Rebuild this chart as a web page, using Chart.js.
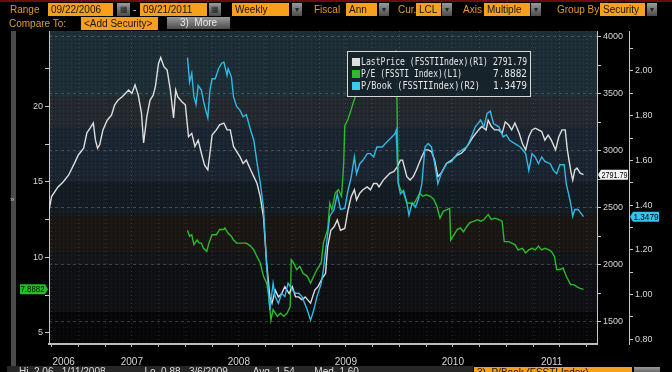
<!DOCTYPE html>
<html><head><meta charset="utf-8">
<script src="https://cdn.jsdelivr.net/npm/chart.js@4"></script>
<style>
html,body{margin:0;padding:0;background:#000;width:672px;height:372px;overflow:hidden;}
#wrap{position:relative;width:672px;height:372px;overflow:hidden;}
#c{position:absolute;left:0;top:0;}
.t{position:absolute;font:10px "Liberation Sans",Arial,sans-serif;white-space:nowrap;line-height:13px;height:13px;box-sizing:border-box;}
.lbl{color:#e39a2c;}
.fld{background:#f6a11d;color:#141414;padding-left:3px;}
.btn{background:linear-gradient(#9a9a9a,#4c4c4c);color:#222;text-align:center;font-size:8px;}
</style></head>
<body><div id="wrap">
<canvas id="c" width="672" height="372"></canvas>
<div class="t" style="left:0;top:0;width:672px;height:2px;background:#6e0b0b"></div>
<div class="t lbl" style="left:10px;top:3px">Range</div>
<div class="t fld" style="left:48px;top:3px;width:65px">09/22/2006</div>
<div class="t btn" style="left:117px;top:3px;width:13px">▦</div>
<div class="t" style="left:133px;top:3px;color:#ddd">-</div>
<div class="t fld" style="left:140px;top:3px;width:67px">09/21/2011</div>
<div class="t btn" style="left:209px;top:3px;width:12px">▦</div>
<div class="t fld" style="left:232px;top:3px;width:57px">Weekly</div>
<div class="t btn" style="left:292px;top:3px;width:10px">▾</div>
<div class="t lbl" style="left:314px;top:3px">Fiscal</div>
<div class="t fld" style="left:346px;top:3px;width:31px">Ann</div>
<div class="t btn" style="left:379px;top:3px;width:10px">▾</div>
<div class="t lbl" style="left:398px;top:3px">Cur.</div>
<div class="t fld" style="left:416px;top:3px;width:25px">LCL</div>
<div class="t btn" style="left:442px;top:3px;width:10px">▾</div>
<div class="t lbl" style="left:463px;top:3px">Axis</div>
<div class="t fld" style="left:484px;top:3px;width:46px">Multiple</div>
<div class="t btn" style="left:531px;top:3px;width:10px">▾</div>
<div class="t lbl" style="left:557px;top:3px">Group By</div>
<div class="t fld" style="left:600px;top:3px;width:45px">Security</div>
<div class="t btn" style="left:647px;top:3px;width:10px">▾</div>
<div class="t lbl" style="left:9px;top:17px">Compare To:</div>
<div class="t fld" style="left:81px;top:17px;width:77px">&lt;Add Security&gt;</div>
<div class="t btn" style="left:167px;top:17px;width:63px;height:12px;line-height:12px;font-size:10px;color:#e8e8e8">3)&nbsp;&nbsp;More</div>
<div class="t" style="left:11px;top:31px;width:5px;height:341px;background:#4a4a4a;"></div>
<div class="t" style="left:10px;top:193px;width:8px;color:#bbb;font-size:8px">»</div>
<div class="t" style="left:7px;top:366px;width:466px;height:8px;background:#262626;color:#ddd;padding-left:12px;line-height:12px">Hi&nbsp;&nbsp;2.06&nbsp;&nbsp;&nbsp;1/11/2008&nbsp;&nbsp;&nbsp;&nbsp;&nbsp;&nbsp;&nbsp;&nbsp;&nbsp;&nbsp;&nbsp;&nbsp;&nbsp;&nbsp;Lo&nbsp;&nbsp;0.88&nbsp;&nbsp;&nbsp;3/6/2009&nbsp;&nbsp;&nbsp;&nbsp;&nbsp;&nbsp;&nbsp;&nbsp;&nbsp;Avg&nbsp;&nbsp;1.54&nbsp;&nbsp;&nbsp;&nbsp;&nbsp;&nbsp;&nbsp;Med&nbsp;&nbsp;1.60</div>
<div class="t fld" style="left:474px;top:367px;width:158px;height:8px;line-height:12px">3)&nbsp;&nbsp;P/Book (FSSTI Index)</div>
<div class="t btn" style="left:634px;top:367px;width:26px;height:8px"></div>
</div>
<script>
// ---- data ----
const yearLabels = ['2006','2007','2008','2009','2010','2011'];
const priceDates = [
2006.726,2006.75,2006.81,2006.86,2006.91,2006.97,2007.00,2007.05,2007.08,2007.11,
2007.14,2007.16,2007.18,2007.20,2007.23,2007.27,2007.31,2007.34,2007.37,2007.41,
2007.44,2007.47,2007.50,2007.53,2007.56,2007.59,2007.61,2007.64,2007.67,2007.70,
2007.72,2007.75,2007.77,2007.80,2007.83,2007.86,2007.89,2007.91,2007.93,2007.97,
2008.00,2008.03,2008.06,2008.09,2008.12,2008.15,2008.18,2008.21,2008.23,2008.25,
2008.29,2008.32,2008.36,2008.39,2008.42,2008.45,2008.48,2008.51,2008.54,2008.57,
2008.61,2008.64,2008.67,2008.70,2008.73,2008.76,2008.79,2008.81,2008.84,2008.87,
2008.90,2008.93,2008.97,2009.00,2009.03,2009.06,2009.09,2009.12,2009.17,2009.21,
2009.24,2009.28,2009.31,2009.33,2009.36,2009.39,2009.42,2009.45,2009.49,2009.52,
2009.55,2009.58,2009.60,2009.63,2009.66,2009.70,2009.73,2009.76,2009.79,2009.81,
2009.85,2009.88,2009.91,2009.95,2009.98,2010.01,2010.03,2010.07,2010.10,2010.13,
2010.16,2010.19,2010.21,2010.24,2010.27,2010.30,2010.33,2010.36,2010.39,2010.44,
2010.49,2010.54,2010.58,2010.61,2010.65,2010.69,2010.74,2010.77,2010.81,2010.83,
2010.86,2010.89,2010.93,2010.96,2010.99,2011.02,2011.05,2011.08,2011.12,2011.15,
2011.18,2011.21,2011.24,2011.27,2011.30,2011.33,2011.36,2011.39,2011.42,2011.46,
2011.49,2011.52,2011.55,2011.57,2011.60,2011.62,2011.64,2011.66,2011.69,2011.721];
const priceValues = [
2480,2600,2685,2730,2790,2905,2965,3025,3160,3200,
3245,3095,3025,3055,3185,3270,3315,3405,3445,3475,
3505,3535,3505,3580,3490,3335,3070,3300,3445,3490,
3565,3770,3820,3740,3710,3535,3290,3535,3475,3430,
3405,3125,3155,3040,3095,2980,2875,2835,2980,3140,
3185,3230,3245,3185,3185,3040,2995,2950,2890,2920,
2835,2775,2715,2600,2425,2015,1720,1665,1780,1720,
1750,1810,1750,1810,1720,1720,1695,1720,1665,1780,
1810,1885,1925,2160,2305,2335,2395,2305,2320,2480,
2600,2660,2570,2630,2660,2685,2660,2715,2715,2685,
2745,2775,2805,2820,2860,2920,2920,2775,2745,2775,
2835,2905,2950,3010,3010,2995,2920,2775,2805,2890,
2920,2965,2980,3010,3065,3125,3185,3215,3185,3270,
3215,3185,3185,3155,3255,3230,3185,3245,3155,3065,
3010,3125,3185,3200,3185,3170,3095,3140,3095,3010,
3125,3185,3185,3010,2835,2745,2835,2850,2805,2791.79];
const peDates = [
2008.02,2008.04,2008.06,2008.08,2008.11,2008.13,2008.15,2008.17,2008.20,2008.22,
2008.25,2008.29,2008.32,2008.36,2008.37,2008.40,2008.43,2008.45,2008.48,2008.53,
2008.57,2008.61,2008.64,2008.67,2008.70,2008.73,2008.76,2008.78,2008.80,2008.82,
2008.86,2008.89,2008.92,2008.95,2008.98,2008.99,2009.01,2009.04,2009.07,2009.10,
2009.14,2009.17,2009.20,2009.23,2009.27,2009.29,2009.33,2009.35,2009.37,2009.40,
2009.43,2009.46,2009.48,2009.49,2009.52,2009.55,2009.59,2009.62,2009.70,2009.80,
2009.90,2009.97,2009.99,2010.01,2010.04,2010.07,2010.10,2010.13,2010.16,2010.19,
2010.22,2010.25,2010.29,2010.32,2010.35,2010.38,2010.41,2010.44,2010.47,2010.48,
2010.51,2010.54,2010.57,2010.60,2010.63,2010.66,2010.70,2010.73,2010.76,2010.79,
2010.83,2010.86,2010.89,2010.93,2010.96,2010.98,2011.02,2011.05,2011.08,2011.11,
2011.15,2011.18,2011.21,2011.24,2011.27,2011.30,2011.33,2011.36,2011.40,2011.42,
2011.45,2011.47,2011.50,2011.53,2011.56,2011.60,2011.63,2011.66,2011.69,2011.721];
const peValues = [
11.8,11.4,11.5,10.85,11.15,10.95,10.95,10.6,10.4,10.95,
11.5,11.5,11.85,11.85,11.95,11.6,11.4,11.15,10.95,10.95,
10.95,10.75,10.5,10.05,9.65,8.75,8.3,7.4,5.85,6.55,
6.1,6.3,6.1,6.3,6.75,9.85,9.65,9.2,9.4,8.95,
8.75,8.3,8.75,9.2,9.65,10.95,11.85,13.6,13.15,14.25,
14.5,14.05,16.25,18.7,19.15,19.8,20.7,22.2,23.0,23.3,
23.5,23.65,14.95,14.5,14.25,13.6,13.6,13.5,13.85,14.25,
14.05,14.15,14.05,13.85,13.4,12.6,13.05,13.15,13.25,11.15,
11.5,11.85,11.95,11.7,12.05,12.3,12.4,12.5,12.4,12.5,
12.85,12.5,12.6,12.5,12.4,11.05,11.05,10.95,10.85,10.5,
10.6,10.3,10.5,10.6,10.5,10.75,10.5,10.6,10.5,10.4,
10.05,9.2,9.2,9.3,8.75,8.2,8.2,8.05,7.95,7.8882];
const pbDates = [
2008.02,2008.04,2008.06,2008.08,2008.10,2008.12,2008.15,2008.17,2008.19,2008.21,
2008.23,2008.25,2008.28,2008.31,2008.34,2008.36,2008.39,2008.40,2008.43,2008.45,
2008.48,2008.51,2008.54,2008.57,2008.61,2008.64,2008.67,2008.70,2008.73,2008.76,
2008.79,2008.82,2008.84,2008.87,2008.90,2008.93,2008.96,2009.00,2009.03,2009.06,
2009.09,2009.14,2009.17,2009.20,2009.23,2009.27,2009.29,2009.32,2009.35,2009.39,
2009.42,2009.45,2009.49,2009.52,2009.55,2009.58,2009.60,2009.63,2009.66,2009.70,
2009.73,2009.76,2009.79,2009.84,2009.87,2009.90,2009.93,2009.96,2009.97,2009.99,
2010.01,2010.04,2010.07,2010.09,2010.12,2010.15,2010.18,2010.21,2010.24,2010.27,
2010.30,2010.33,2010.36,2010.39,2010.44,2010.49,2010.54,2010.58,2010.63,2010.66,
2010.71,2010.76,2010.79,2010.82,2010.85,2010.88,2010.93,2010.97,2011.00,2011.03,
2011.08,2011.13,2011.18,2011.21,2011.24,2011.27,2011.30,2011.33,2011.36,2011.41,
2011.44,2011.47,2011.50,2011.54,2011.56,2011.60,2011.62,2011.64,2011.67,2011.721];
const pbValues = [
2.06,1.95,1.99,1.885,1.85,1.935,1.915,1.865,1.825,1.79,
1.915,1.965,1.965,2.01,2.035,2.04,1.98,2.01,1.975,1.885,
1.84,1.825,1.795,1.805,1.735,1.69,1.59,1.50,1.39,1.125,
0.93,1.05,0.99,0.96,1.005,0.99,1.05,1.02,1.005,1.005,
0.99,0.93,0.885,0.93,0.99,1.05,1.11,1.23,1.35,1.38,
1.45,1.38,1.385,1.465,1.525,1.615,1.54,1.585,1.60,1.63,
1.63,1.615,1.66,1.66,1.675,1.69,1.705,1.72,1.735,1.495,
1.45,1.465,1.41,1.355,1.41,1.39,1.43,1.495,1.66,1.675,
1.66,1.585,1.495,1.54,1.585,1.595,1.63,1.645,1.66,1.69,
1.75,1.78,1.75,1.81,1.82,1.765,1.75,1.705,1.715,1.69,
1.675,1.66,1.63,1.555,1.63,1.615,1.585,1.615,1.595,1.585,
1.555,1.54,1.58,1.58,1.495,1.41,1.35,1.38,1.38,1.3479];
const seriesNames = ['LastPrice (FSSTIIndex)(R1)','P/E (FSSTI Index)(L1)','P/Book (FSSTIIndex)(R2)'];

// ---- styling / layout ----
const C_PRICE='#dedede', C_PE='#2bbb2b', C_PB='#2fb9e4';
const xMin = 2006.726, xMax = 2011.847;
const labelPos = yearLabels.map(y => (Math.max(+y, xMin) + Math.min(+y + 1, xMax)) / 2);
const quarterTicks = [];
for (let q = Math.ceil(xMin * 4); q / 4 <= xMax; q++) quarterTicks.push(q / 4);
const isQuarter = v => quarterTicks.some(q => Math.abs(q - v) < 1e-9);
const xTickValues = [...new Set([...quarterTicks, ...labelPos])].sort((a, b) => a - b);
const pts = (xs, ys) => xs.map((x, i) => ({x, y: ys[i]}));
function stepTicks(s, step) {
  const out = [];
  for (let k = Math.ceil(s.min / step - 1e-9); k * step <= s.max + 1e-9; k++) out.push({value: +(k * step).toFixed(6)});
  s.ticks = out;
}
const isMult = (v, m) => Math.abs(v / m - Math.round(v / m)) < 1e-6;
const tickFont = {family: '"Liberation Sans", Arial, sans-serif', size: 9};

const bands = [[0,66,'#1d2e36'],[66,96,'#23292f'],[96,151,'#1a2531'],[151,183,'#141c23'],[183,221,'#1a1613'],[221,234,'#121519'],[234,281,'#0e1013'],[281,313,'#070709']];

const bgPlugin = {
  id: 'bg',
  beforeDraw(chart) {
    const {ctx, chartArea: a} = chart;
    const H = a.bottom - a.top;
    ctx.save();
    bands.forEach(([t, b, c]) => {
      ctx.fillStyle = c;
      ctx.fillRect(a.left, a.top + t / 313 * H, a.right - a.left, (b - t) / 313 * H + 0.5);
    });
    const p = document.createElement('canvas'); p.width = 4; p.height = 4;
    const pc = p.getContext('2d');
    pc.fillStyle = 'rgba(0,0,0,0.3)'; pc.fillRect(1, 1, 1, 1);
    pc.fillStyle = 'rgba(255,255,255,0.05)'; pc.fillRect(3, 3, 1, 1);
    ctx.fillStyle = ctx.createPattern(p, 'repeat');
    ctx.fillRect(a.left, a.top, a.right - a.left, H);
    ctx.restore();
  }
};

function tagShape(ctx, x0, x1, y, h, tipX) {
  ctx.beginPath();
  if (tipX > x1) { ctx.moveTo(x0, y - h/2); ctx.lineTo(x1, y - h/2); ctx.lineTo(tipX, y); ctx.lineTo(x1, y + h/2); ctx.lineTo(x0, y + h/2); }
  else { ctx.moveTo(tipX, y); ctx.lineTo(x0, y - h/2); ctx.lineTo(x1, y - h/2); ctx.lineTo(x1, y + h/2); ctx.lineTo(x0, y + h/2); }
  ctx.closePath(); ctx.fill();
}

const overlayPlugin = {
  id: 'overlay',
  afterDatasetsDraw(chart) {
    const ctx = chart.ctx;
    ctx.save();
    const L = 347, T = 51, R = 531, B = 97;
    ctx.fillStyle = 'rgba(22,34,42,0.93)';
    ctx.fillRect(L, T, R - L, B - T);
    ctx.strokeStyle = '#d8d8d8'; ctx.lineWidth = 1;
    ctx.strokeRect(L + 0.5, T + 0.5, R - L - 1, B - T - 1);
    const vals = [priceValues.at(-1).toFixed(2), peValues.at(-1).toFixed(4), pbValues.at(-1).toFixed(4)];
    const cols = [C_PRICE, C_PE, '#3cc8f0'];
    ctx.font = '10px "DejaVu Sans Mono", monospace';
    ctx.textBaseline = 'middle';
    seriesNames.forEach((n, i) => {
      const y = 62 + i * 12;
      ctx.fillStyle = cols[i]; ctx.fillRect(352, y - 4, 8, 8);
      ctx.fillStyle = '#e6e6e6';
      ctx.textAlign = 'left';
      ctx.fillText(n, 361, y, [127, 101, 119][i]);
      ctx.fillText(vals[i], 493, y, 34);
    });
    ctx.restore();
  },
  afterDraw(chart) {
    const ctx = chart.ctx, s = chart.scales;
    ctx.save();
    ctx.font = '9px "Liberation Sans", Arial, sans-serif';
    ctx.textBaseline = 'middle'; ctx.textAlign = 'center';
    let y = s.yL.getPixelForValue(peValues.at(-1));
    ctx.fillStyle = '#1fc21f'; tagShape(ctx, 20, 45, y, 10, 48);
    ctx.fillStyle = '#000'; ctx.fillText(peValues.at(-1).toFixed(4), 32.5, y + 0.5, 24);
    y = s.yR1.getPixelForValue(priceValues.at(-1));
    ctx.fillStyle = '#f2f2f2'; tagShape(ctx, 601, 628, y, 10, 598);
    ctx.fillStyle = '#000'; ctx.fillText(priceValues.at(-1).toFixed(2), 614.5, y + 0.5, 26);
    y = s.yR2.getPixelForValue(pbValues.at(-1));
    ctx.fillStyle = '#33c4f0'; tagShape(ctx, 633, 659, y, 10, 630);
    ctx.fillStyle = '#000'; ctx.fillText(pbValues.at(-1).toFixed(4), 646, y + 0.5, 25);
    ctx.restore();
  }
};

new Chart(document.getElementById('c'), {
  type: 'line',
  data: {
    datasets: [
      {label: seriesNames[0], data: pts(priceDates, priceValues), yAxisID: 'yR1', borderColor: C_PRICE, borderWidth: 1.4, pointRadius: 0, order: 1},
      {label: seriesNames[1], data: pts(peDates, peValues), yAxisID: 'yL', borderColor: C_PE, borderWidth: 1.4, pointRadius: 0, order: 2},
      {label: seriesNames[2], data: pts(pbDates, pbValues), yAxisID: 'yR2', borderColor: C_PB, borderWidth: 1.4, pointRadius: 0, order: 0}
    ]
  },
  options: {
    responsive: false, animation: false,
    layout: {padding: {top: 31, left: 0, right: 0, bottom: 0}},
    plugins: {legend: {display: false}, tooltip: {enabled: false}},
    scales: {
      x: {
        type: 'linear', position: 'bottom', min: xMin, max: xMax,
        afterBuildTicks(s) { s.ticks = xTickValues.map(v => ({value: v})); },
        afterFit(s) { s.height = 28; },
        ticks: {autoSkip: false, maxRotation: 0, minRotation: 0, color: '#d6d6d6', padding: 9,
          font: {family: '"Liberation Sans", Arial, sans-serif', size: 10},
          callback(v) { const i = labelPos.indexOf(v); return i >= 0 ? yearLabels[i] : ''; }},
        grid: {drawOnChartArea: true, tickLength: 3,
          color: c => (c.tick && isQuarter(c.tick.value)) ? 'rgba(190,200,205,0.16)' : 'rgba(0,0,0,0)',
          tickColor: c => (c.tick && isQuarter(c.tick.value)) ? '#bdbdbd' : 'rgba(0,0,0,0)'},
        border: {color: '#bdbdbd', width: 2, dash: [1, 3]}
      },
      yL: {
        type: 'linear', position: 'left', min: 4.27, max: 24.99,
        afterBuildTicks(s) { stepTicks(s, 2.5); },
        afterFit(s) { s.width = 49; },
        ticks: {color: '#d6d6d6', font: tickFont, padding: 2, callback: v => isMult(v, 5) ? String(v) : ''},
        grid: {drawOnChartArea: false, tickLength: 4, tickColor: '#c8c8c8'},
        border: {color: '#c8c8c8', width: 1}
      },
      yR1: {
        type: 'linear', position: 'right', min: 1307, max: 4052.6,
        afterBuildTicks(s) { stepTicks(s, 250); },
        afterFit(s) { s.width = 32; },
        ticks: {color: '#d6d6d6', font: tickFont, padding: 2, callback: v => isMult(v, 500) ? String(v) : ''},
        grid: {drawOnChartArea: true, tickLength: 4, tickColor: '#c8c8c8',
          color: c => (c.tick && isMult(c.tick.value, 500)) ? 'rgba(150,155,160,0.35)' : 'rgba(0,0,0,0)'},
        border: {color: '#c8c8c8', width: 1, dash: [3, 3]}
      },
      yR2: {
        type: 'linear', position: 'right', min: 0.778, max: 2.179,
        afterBuildTicks(s) { stepTicks(s, 0.1); },
        afterFit(s) { s.width = 43; },
        ticks: {color: '#d6d6d6', font: tickFont, padding: 2, callback: v => isMult(v, 0.2) ? v.toFixed(2) : ''},
        grid: {drawOnChartArea: false, tickLength: 4, tickColor: '#c8c8c8'},
        border: {color: '#c8c8c8', width: 1}
      }
    }
  },
  plugins: [bgPlugin, overlayPlugin]
});
</script>
</body></html>
